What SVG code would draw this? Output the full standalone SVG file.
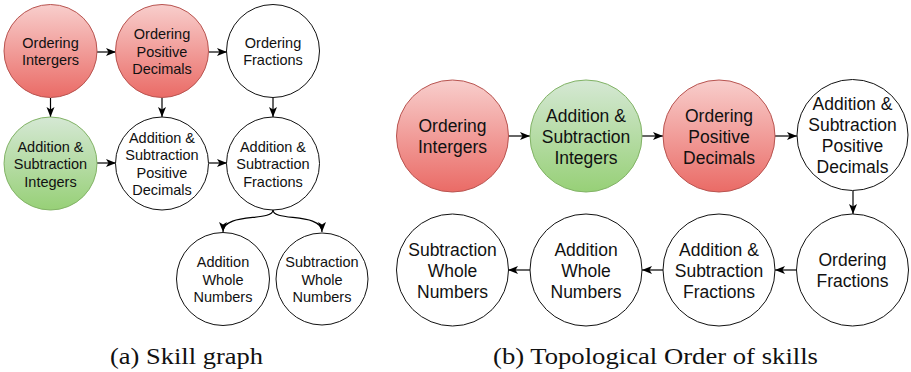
<svg xmlns="http://www.w3.org/2000/svg" width="911" height="372" viewBox="0 0 911 372">
<defs>
<linearGradient id="red" x1="0" y1="0" x2="0" y2="1">
<stop offset="0" stop-color="#f8cecc"/>
<stop offset="1" stop-color="#ea6b66"/>
</linearGradient>
<linearGradient id="green" x1="0" y1="0" x2="0" y2="1">
<stop offset="0" stop-color="#d5e8d4"/>
<stop offset="1" stop-color="#97d077"/>
</linearGradient>
<marker id="arr" markerUnits="userSpaceOnUse" markerWidth="10" markerHeight="10" viewBox="0 0 10 10" refX="10" refY="5" orient="auto">
<path d="M0,1 L10,5 L0,9 L2.5,5 z" fill="#000"/>
</marker>
</defs>
<style>
.red{fill:url(#red);stroke:#b85450;stroke-width:1}
.green{fill:url(#green);stroke:#82b366;stroke-width:1}
.white{fill:#fff;stroke:#111;stroke-width:1}
.s{font-family:"Liberation Sans",Arial,sans-serif;font-size:14.5px;fill:#111;text-anchor:middle}
.b{font-family:"Liberation Sans",Arial,sans-serif;font-size:17.5px;fill:#111;text-anchor:middle}
.cap{font-family:"Liberation Serif","Times New Roman",serif;font-size:23px;fill:#111}
.e{fill:none;stroke:#000;stroke-width:1.2;marker-end:url(#arr)}
</style>

<g id="connectors">
<path class="e" d="M97,52 L116,52"/>
<path class="e" d="M209,52 L227,52"/>
<path class="e" d="M50.5,98 L50.5,117"/>
<path class="e" d="M162,98 L162,117"/>
<path class="e" d="M273,98 L273,117"/>
<path class="e" d="M97,163 L116,163"/>
<path class="e" d="M209,163 L227,163"/>
<path class="e" d="M273,210 C273,222 223,212 223,232"/>
<path class="e" d="M273,210 C273,222 322,212 322,232"/>
<path class="e" d="M508,136 L530,136"/>
<path class="e" d="M642,136 L663,136"/>
<path class="e" d="M775,136 L797,136"/>
<path class="e" d="M853,191 L853,214"/>
<path class="e" d="M797,270 L775,270"/>
<path class="e" d="M663,270 L642,270"/>
<path class="e" d="M530,270 L508,270"/>
</g>

<g id="a-ordering-intergers">
<circle class="red" cx="50.5" cy="51" r="46.5"/>
<text class="s"><tspan x="50.5" y="47.5">Ordering</tspan><tspan x="50.5" y="65">Intergers</tspan></text>
</g>
<g id="a-ordering-positive-decimals">
<circle class="red" cx="162" cy="51" r="46.5"/>
<text class="s"><tspan x="162" y="39">Ordering</tspan><tspan x="162" y="56.5">Positive</tspan><tspan x="162" y="74">Decimals</tspan></text>
</g>
<g id="a-ordering-fractions">
<circle class="white" cx="273" cy="51" r="46.5"/>
<text class="s"><tspan x="273" y="47.5">Ordering</tspan><tspan x="273" y="65">Fractions</tspan></text>
</g>
<g id="a-addsub-integers">
<circle class="green" cx="50.5" cy="163.5" r="46.5"/>
<text class="s"><tspan x="50.5" y="151.5">Addition &amp;</tspan><tspan x="50.5" y="169">Subtraction</tspan><tspan x="50.5" y="186.5">Integers</tspan></text>
</g>
<g id="a-addsub-positive-decimals">
<circle class="white" cx="162" cy="163.5" r="46.5"/>
<text class="s"><tspan x="162" y="142.5">Addition &amp;</tspan><tspan x="162" y="160">Subtraction</tspan><tspan x="162" y="177.5">Positive</tspan><tspan x="162" y="195">Decimals</tspan></text>
</g>
<g id="a-addsub-fractions">
<circle class="white" cx="273" cy="163.5" r="46.5"/>
<text class="s"><tspan x="273" y="151.5">Addition &amp;</tspan><tspan x="273" y="169">Subtraction</tspan><tspan x="273" y="186.5">Fractions</tspan></text>
</g>
<g id="a-addition-whole-numbers">
<circle class="white" cx="223" cy="279" r="46.5"/>
<text class="s"><tspan x="223" y="267">Addition</tspan><tspan x="223" y="284.5">Whole</tspan><tspan x="223" y="302">Numbers</tspan></text>
</g>
<g id="a-subtraction-whole-numbers">
<circle class="white" cx="322" cy="279" r="46"/>
<text class="s"><tspan x="322" y="267">Subtraction</tspan><tspan x="322" y="284.5">Whole</tspan><tspan x="322" y="302">Numbers</tspan></text>
</g>

<g id="b-ordering-intergers">
<circle class="red" cx="452.5" cy="136" r="56"/>
<text class="b"><tspan x="452.5" y="132">Ordering</tspan><tspan x="452.5" y="153">Intergers</tspan></text>
</g>
<g id="b-addsub-integers">
<circle class="green" cx="586" cy="136" r="56"/>
<text class="b"><tspan x="586" y="121.5">Addition &amp;</tspan><tspan x="586" y="142.5">Subtraction</tspan><tspan x="586" y="163.5">Integers</tspan></text>
</g>
<g id="b-ordering-positive-decimals">
<circle class="red" cx="719" cy="136" r="56"/>
<text class="b"><tspan x="719" y="121.5">Ordering</tspan><tspan x="719" y="142.5">Positive</tspan><tspan x="719" y="163.5">Decimals</tspan></text>
</g>
<g id="b-addsub-positive-decimals">
<circle class="white" cx="852.5" cy="135" r="55.5"/>
<text class="b"><tspan x="852.5" y="110">Addition &amp;</tspan><tspan x="852.5" y="131">Subtraction</tspan><tspan x="852.5" y="152">Positive</tspan><tspan x="852.5" y="173">Decimals</tspan></text>
</g>
<g id="b-ordering-fractions">
<circle class="white" cx="852.5" cy="270" r="56"/>
<text class="b"><tspan x="852.5" y="266">Ordering</tspan><tspan x="852.5" y="287">Fractions</tspan></text>
</g>
<g id="b-addsub-fractions">
<circle class="white" cx="719" cy="270" r="56"/>
<text class="b"><tspan x="719" y="255.5">Addition &amp;</tspan><tspan x="719" y="276.5">Subtraction</tspan><tspan x="719" y="297.5">Fractions</tspan></text>
</g>
<g id="b-addition-whole-numbers">
<circle class="white" cx="586" cy="270" r="56"/>
<text class="b"><tspan x="586" y="255.5">Addition</tspan><tspan x="586" y="276.5">Whole</tspan><tspan x="586" y="297.5">Numbers</tspan></text>
</g>
<g id="b-subtraction-whole-numbers">
<circle class="white" cx="452.5" cy="270" r="56"/>
<text class="b"><tspan x="452.5" y="255.5">Subtraction</tspan><tspan x="452.5" y="276.5">Whole</tspan><tspan x="452.5" y="297.5">Numbers</tspan></text>
</g>

<g id="captions">
<text class="cap" x="110" y="364" textLength="153" lengthAdjust="spacingAndGlyphs">(a) Skill graph</text>
<text class="cap" x="493" y="364" textLength="325" lengthAdjust="spacingAndGlyphs">(b) Topological Order of skills</text>
</g>
</svg>
